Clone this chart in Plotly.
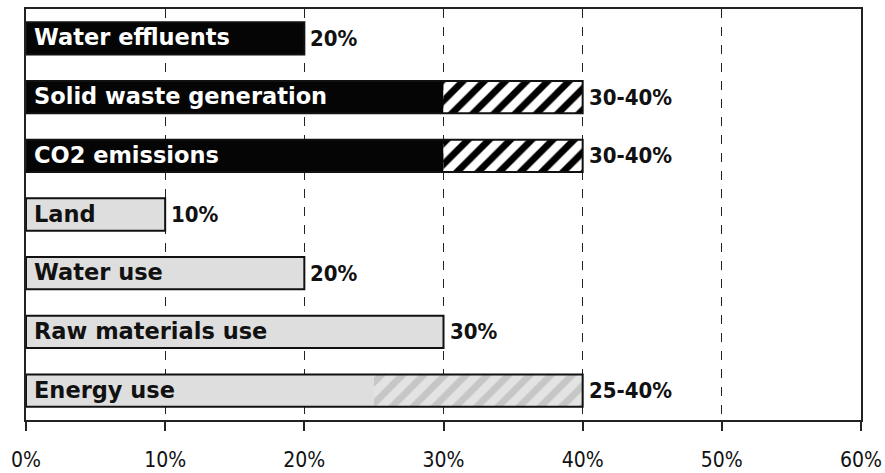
import plotly.graph_objects as go

# Environmental impact indicators and their estimated shares
categories = ["Water effluents", "Solid waste generation", "CO2 emissions",
              "Land", "Water use", "Raw materials use", "Energy use"]
low_values = [20, 30, 30, 10, 20, 30, 25]
high_values = [20, 40, 40, 10, 20, 30, 40]
value_labels = ["20%", "30-40%", "30-40%", "10%", "20%", "30%", "25-40%"]
is_dark = [True, True, True, False, False, False, False]
tick_values = [0, 10, 20, 30, 40, 50, 60]
tick_labels = ["0%", "10%", "20%", "30%", "40%", "50%", "60%"]

solid_colors = ["#050505" if d else "#dedede" for d in is_dark]
range_values = [h - l for h, l in zip(high_values, low_values)]

fig = go.Figure()

# solid part of each bar (lower bound)
fig.add_trace(go.Bar(
    y=categories, x=low_values, orientation="h",
    marker=dict(color=solid_colors, line=dict(width=0)),
    width=0.55, hoverinfo="skip", showlegend=False,
))

# hatched part of each bar (range between lower and upper bound),
# black-on-white for the emission rows, faint grey for the resource rows
for dark_group, fg, bg in [(True, "#000000", "#ffffff"), (False, "#c6c6c6", "#e3e3e3")]:
    fig.add_trace(go.Bar(
        y=categories,
        x=[r if d == dark_group else 0 for r, d in zip(range_values, is_dark)],
        base=low_values, orientation="h",
        marker=dict(
            color=bg,
            line=dict(width=0),
            pattern=dict(shape="/", fgcolor=fg, fgopacity=1,
                         size=15, solidity=0.45, fillmode="overlay"),
        ),
        width=0.55, hoverinfo="skip", showlegend=False,
    ))

# outline around the full extent of each bar
fig.add_trace(go.Bar(
    y=categories, x=high_values, orientation="h",
    marker=dict(color="rgba(0,0,0,0)", line=dict(color="#111111", width=2)),
    width=0.55, hoverinfo="skip", showlegend=False,
))

# category names written inside the bars
for cat, dark in zip(categories, is_dark):
    fig.add_annotation(
        x=0, y=cat, text=f"<b>{cat}</b>", showarrow=False,
        xanchor="left", xshift=6, yshift=1,
        font=dict(family="DejaVu Sans, Verdana, sans-serif", size=22.5,
                  color="#ffffff" if dark else "#111111"),
    )

# value labels at the end of each bar
for cat, hv, lab in zip(categories, high_values, value_labels):
    fig.add_annotation(
        x=hv, y=cat, text=f"<b>{lab}</b>", showarrow=False,
        xanchor="left", xshift=4, yshift=0,
        font=dict(family="DejaVu Sans Condensed, sans-serif",
                  size=22, color="#111111"),
    )

fig.update_layout(
    barmode="overlay",
    width=885, height=473,
    margin=dict(l=26, r=24, t=9, b=53, autoexpand=False),
    paper_bgcolor="#ffffff", plot_bgcolor="#ffffff",
)

fig.update_xaxes(
    range=[0, 60], tickvals=tick_values, ticktext=tick_labels,
    showgrid=True, gridcolor="#222222", gridwidth=1, griddash="dash",
    showline=True, linecolor="#222222", linewidth=2, mirror=True,
    ticks="outside", ticklen=9, tickcolor="#222222", tickwidth=2,
    ticklabelstandoff=11, automargin=False,
    tickfont=dict(family="DejaVu Sans Condensed, sans-serif", size=21, color="#111111"),
    zeroline=False, fixedrange=True,
)
fig.update_yaxes(
    autorange="reversed", showticklabels=False,
    showline=True, linecolor="#222222", linewidth=2, mirror=True,
    showgrid=False, ticks="", fixedrange=True,
)

fig.write_html("out.html")
